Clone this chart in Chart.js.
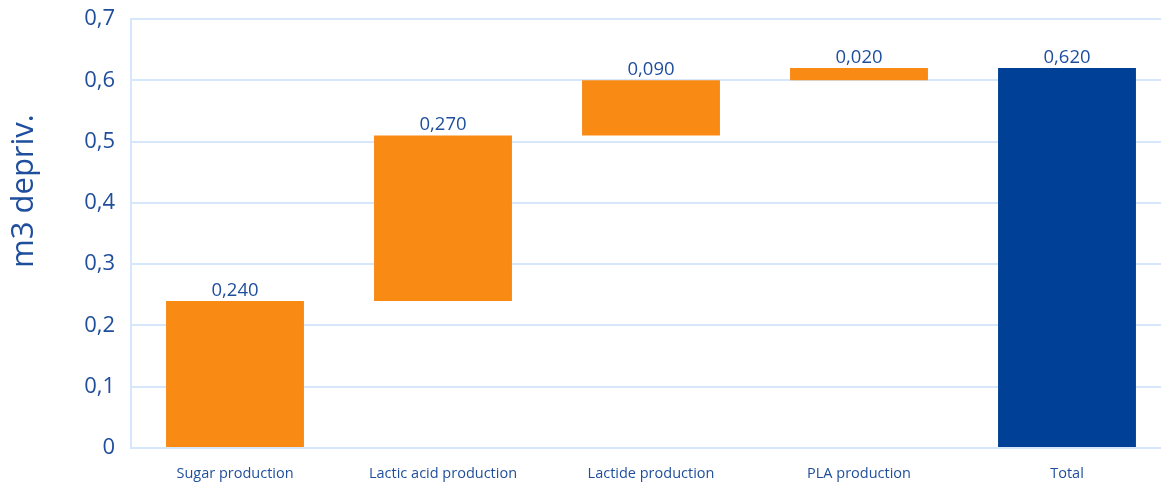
<!DOCTYPE html>
<html>
<head>
<meta charset="utf-8">
<script src="https://cdn.jsdelivr.net/npm/chart.js@4/dist/chart.umd.min.js"></script>
<style>
  html, body { margin: 0; padding: 0; background: #fff; overflow: hidden; }
  #wrap { width: 1171px; height: 485px; }
</style>
</head>
<body>
<div id="wrap"><canvas id="chart"></canvas></div>
<script>
// waterfall data
const categories = ['Sugar production', 'Lactic acid production', 'Lactide production', 'PLA production', 'Total']
const steps = [0.24, 0.27, 0.09, 0.02]
const total = 0.62
const yTicks = [0, 0.1, 0.2, 0.3, 0.4, 0.5, 0.6, 0.7]
const yTitle = 'm3 depriv.'

const textBlue = '#1f4e9c'
const gridBlue = '#d6e6fb'

// floating ranges for each step, then the total bar from zero
let running = 0
const ranges = steps.map(v => {
  const r = [running, running + v]
  running += v
  return r
})
ranges.push([0, total])
const labels = steps.concat([total])
const colors = steps.map(() => '#f98a13').concat(['#004197'])

// value text above each bar + the rotated axis title
const valueLabels = {
  id: 'valueLabels',
  afterDatasetsDraw(chart) {
    const ctx = chart.ctx
    const meta = chart.getDatasetMeta(0)
    ctx.save()
    ctx.font = '18.5px "Open Sans", sans-serif'
    ctx.fillStyle = textBlue
    ctx.textAlign = 'center'
    ctx.textBaseline = 'bottom'
    meta.data.forEach((bar, i) => {
      ctx.fillText(labels[i].toFixed(3).replace('.', ','), bar.x, bar.y - 1)
    })
    // title sits a bit above the middle in the original
    ctx.translate(24, 191)
    ctx.rotate(-Math.PI / 2)
    ctx.font = '31px "Open Sans", sans-serif'
    ctx.textBaseline = 'middle'
    ctx.fillText(yTitle, 0, 0)
    ctx.restore()
  }
}

new Chart(document.getElementById('chart'), {
  type: 'bar',
  plugins: [valueLabels],
  data: {
    labels: categories,
    datasets: [{
      data: ranges,
      backgroundColor: colors,
      borderWidth: 0,
      barPercentage: 0.663,
      categoryPercentage: 1
    }]
  },
  options: {
    responsive: true,
    maintainAspectRatio: false,
    animation: false,
    layout: { padding: { top: 19, left: 0, right: 0, bottom: 0 } },
    plugins: {
      legend: { display: false },
      tooltip: { enabled: false }
    },
    scales: {
      x: {
        grid: { display: false, drawTicks: false },
        border: { color: gridBlue, width: 2 },
        ticks: {
          color: textBlue,
          font: { family: 'Open Sans', size: 14.5 },
          padding: 17,
          maxRotation: 0
        },
        afterFit(scale) { scale.height = 37 }
      },
      y: {
        min: 0,
        max: 0.7,
        afterBuildTicks(scale) { scale.ticks = yTicks.map(v => ({ value: v })) },
        grid: { color: gridBlue, lineWidth: 2, drawTicks: false },
        border: { color: gridBlue, width: 2 },
        ticks: {
          color: textBlue,
          font: { family: 'Open Sans', size: 22 },
          padding: 16,
          callback: v => v === 0 ? '0' : v.toFixed(1).replace('.', ',')
        },
        afterFit(scale) {
          scale.width = 131
          scale.paddingTop = 0
          scale.paddingBottom = 0
        }
      }
    }
  }
})
</script>
</body>
</html>
